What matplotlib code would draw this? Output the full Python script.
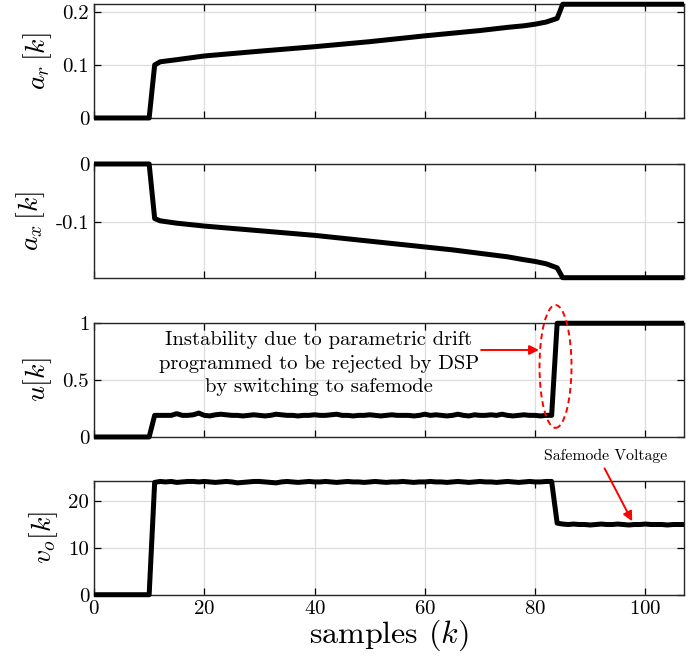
import numpy as np
import matplotlib
matplotlib.use("Agg")
import matplotlib.pyplot as plt
from matplotlib.patches import Ellipse
from matplotlib.ticker import FuncFormatter

plt.rcParams["font.family"] = "serif"
plt.rcParams["font.serif"] = ["cmr10"]
plt.rcParams["mathtext.fontset"] = "cm"
plt.rcParams["axes.unicode_minus"] = False
plt.rcParams["axes.formatter.use_mathtext"] = True

# ---- datos ----
# a_r y a_x: puntos clave (muestra, valor)
ar_k = [0, 10, 11, 12, 15, 20, 30, 40, 50, 60, 65, 70, 75, 78, 80, 82, 84, 85, 107]
ar_val = [0, 0, 0.100, 0.106, 0.110, 0.117, 0.126, 0.1345, 0.144, 0.155, 0.160,
          0.165, 0.171, 0.174, 0.177, 0.181, 0.188, 0.2146, 0.2146]

ax_k = [0, 10, 11, 12, 15, 20, 30, 40, 50, 60, 65, 70, 75, 78, 80, 82, 84, 85, 107]
ax_val = [0, 0, -0.094, -0.098, -0.102, -0.107, -0.115, -0.123, -0.133, -0.143,
          -0.148, -0.154, -0.160, -0.165, -0.168, -0.172, -0.179, -0.196, -0.196]

# u[k] y v_o[k]: una muestra por k = 0..107
u_val = [0, 0, 0, 0, 0, 0, 0, 0, 0, 0, 0,
         0.19, 0.19, 0.19, 0.19, 0.205, 0.19, 0.19, 0.195, 0.21, 0.19,
         0.185, 0.195, 0.2, 0.195, 0.19, 0.19, 0.185, 0.19, 0.195, 0.19,
         0.185, 0.19, 0.2, 0.195, 0.19, 0.19, 0.185, 0.19, 0.19, 0.195,
         0.19, 0.19, 0.195, 0.2, 0.19, 0.19, 0.185, 0.19, 0.19, 0.195,
         0.19, 0.185, 0.19, 0.195, 0.19, 0.19, 0.19, 0.185, 0.19, 0.2,
         0.19, 0.195, 0.19, 0.185, 0.19, 0.2, 0.19, 0.185, 0.195, 0.19,
         0.19, 0.195, 0.19, 0.2, 0.19, 0.185, 0.19, 0.195, 0.19, 0.19,
         0.185, 0.19, 0.19,
         1, 1, 1, 1, 1, 1, 1, 1, 1, 1, 1, 1, 1, 1, 1, 1, 1, 1, 1, 1, 1, 1, 1, 1]

v_val = [0, 0, 0, 0, 0, 0, 0, 0, 0, 0, 0,
         24.0, 24.2, 24.1, 24.2, 24.0, 24.1, 24.2, 24.2, 24.1, 24.2,
         24.1, 24.0, 24.1, 24.2, 24.1, 23.9, 24.0, 24.1, 24.2, 24.2,
         24.1, 24.0, 23.9, 24.1, 24.2, 24.1, 24.0, 24.1, 24.2, 24.1,
         24.1, 24.2, 24.1, 24.0, 24.1, 24.2, 24.1, 24.1, 24.0, 24.1,
         24.2, 24.1, 24.0, 24.1, 24.1, 24.2, 24.1, 24.0, 24.1, 24.1,
         24.2, 24.1, 24.1, 24.0, 24.1, 24.2, 24.1, 24.0, 24.1, 24.2,
         24.1, 24.1, 24.0, 24.1, 24.2, 24.1, 24.0, 24.1, 24.2, 24.1,
         24.1, 24.2, 24.2,
         15.3, 15.1, 15.0, 15.1, 15.0, 15.0, 14.9, 15.0, 15.1, 15.0, 15.0,
         15.1, 15.0, 14.9, 15.0, 15.0, 15.1, 15.0, 15.0, 15.0, 14.9, 15.0,
         15.0, 15.0]

k = np.arange(len(u_val))

texto_inst = ("Instability due to parametric drift\n"
              "programmed to be rejected by DSP\n"
              "by switching to safemode")
texto_safe = "Safemode Voltage"

# ---- figura ----
fig = plt.figure(figsize=(6.99, 6.65), dpi=100)
left, width = 0.1345, 0.844
bottoms = [0.8226, 0.5824, 0.3429, 0.1057]
height = 0.171

axes = [fig.add_axes([left, b, width, height]) for b in bottoms]

series = [(ar_k, ar_val), (ax_k, ax_val), (k, u_val), (k, v_val)]
ylims = [(0, 0.2146), (-0.196, 0), (0, 1), (0, 24.3)]
yticks = [[0, 0.1, 0.2], [-0.1, 0], [0, 0.5, 1], [0, 10, 20]]
ylabels = [r"$a_r\,[k]$", r"$a_x\,[k]$", r"$u[k]$", r"$v_o[k]$"]

fmt = FuncFormatter(lambda v, p: "%g" % v)

for ax, (xs, ys), yl, yt, lab in zip(axes, series, ylims, yticks, ylabels):
    ax.plot(xs, ys, color="black", lw=3.6, clip_on=False,
            solid_joinstyle="round", solid_capstyle="butt", zorder=3)
    ax.set_xlim(0, 107)
    ax.set_ylim(*yl)
    ax.set_yticks(yt)
    ax.set_xticks(range(0, 101, 20))
    ax.yaxis.set_major_formatter(fmt)
    ax.grid(True, color="#dddddd", lw=0.9)
    ax.set_axisbelow(True)
    ax.tick_params(direction="in", top=True, right=True, length=5,
                   width=0.9, labelsize=15)
    for s in ax.spines.values():
        s.set_linewidth(1.0)
        s.set_color("#262626")
    ax.set_ylabel(lab, fontsize=20, labelpad=6)

for ax in axes[:3]:
    ax.tick_params(labelbottom=False)

axes[3].set_xlabel(r"samples $(k)$", fontsize=23, labelpad=0)

# anotacion de inestabilidad
au = axes[2]
elipse = Ellipse((83.7, 0.62), width=5.8, height=1.08, fill=False,
                 edgecolor="red", ls=(0, (3, 2)), lw=1.4, clip_on=False, zorder=4)
au.add_patch(elipse)
au.text(40.8, 0.645, texto_inst, ha="center", va="center", fontsize=14.8,
        linespacing=1.4, zorder=5)
au.annotate("", xy=(80.7, 0.765), xytext=(70.2, 0.765),
            arrowprops=dict(arrowstyle="-|>", color="red", lw=1.4,
                            mutation_scale=14, shrinkA=0, shrinkB=0))

# anotacion de voltaje de modo seguro
av = axes[3]
av.text(92.7, 29.6, texto_safe, ha="center", va="center", fontsize=11.3)
av.annotate("", xy=(97.6, 15.7), xytext=(92.6, 27.0),
            arrowprops=dict(arrowstyle="-|>", color="red", lw=1.4,
                            mutation_scale=14, shrinkA=0, shrinkB=0),
            annotation_clip=False)

fig.savefig("out.png", dpi=100)
